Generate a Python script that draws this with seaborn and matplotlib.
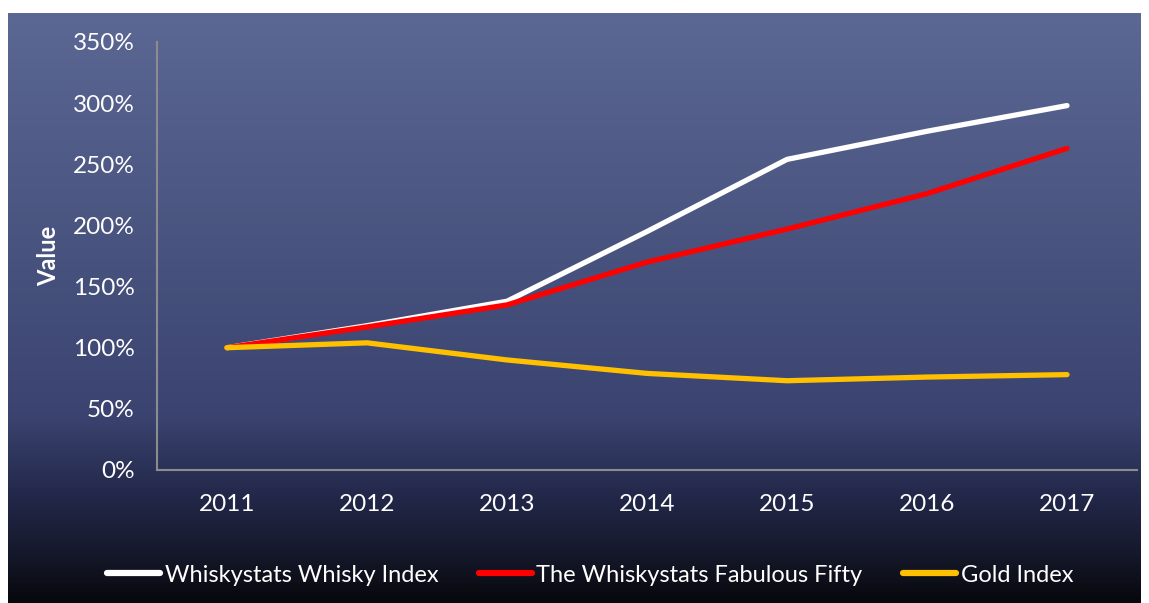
import numpy as np
import pandas as pd
import seaborn as sns
from matplotlib import pyplot as plt
from matplotlib.colors import LinearSegmentedColormap

years = ["2011", "2012", "2013", "2014", "2015", "2016", "2017"]
whisky_index = [100, 118, 138, 195, 254, 277, 298]
fabulous_fifty = [100, 117, 135, 170, 197, 226, 263]
gold_index = [100, 104, 90, 79, 73, 76, 78]

series_names = ["Whiskystats Whisky Index", "The Whiskystats Fabulous Fifty", "Gold Index"]
series_colors = ["#ffffff", "#ff0000", "#ffc000"]

df = pd.concat(
    [
        pd.DataFrame({"Year": years, "Value": vals, "Series": name})
        for name, vals in zip(series_names, [whisky_index, fabulous_fifty, gold_index])
    ],
    ignore_index=True,
)

sns.set_style("white")
plt.rcParams["font.family"] = ["Lato", "DejaVu Sans"]

W, H = 1149, 603
fig = plt.figure(figsize=(W / 100, H / 100), dpi=100)
fig.patch.set_facecolor("white")

# gradient panel behind the chart
bg = fig.add_axes([8 / W, 0, (1141 - 8) / W, (H - 13) / H])
bg.set_axis_off()
cmap = LinearSegmentedColormap.from_list(
    "bg",
    [(0.0, "#5b6893"), (0.68, "#3b4470"), (0.82, "#23284a"), (0.92, "#15182a"), (1.0, "#07080c")],
)
bg.imshow(np.linspace(0, 1, 256).reshape(-1, 1), aspect="auto", cmap=cmap, extent=[0, 1, 0, 1])

ax = fig.add_axes([157 / W, (H - 470) / H, (1137 - 157) / W, (470 - 42) / H])
ax.set_facecolor("none")

sns.lineplot(
    data=df, x="Year", y="Value", hue="Series", palette=series_colors,
    linewidth=3.8, sort=False, ax=ax, legend=False,
)
for ln in ax.get_lines():
    ln.set_solid_capstyle("round")
    ln.set_solid_joinstyle("round")

ax.set_xlim(-0.5, 6.5)
ax.set_ylim(0, 350)
ax.set_yticks(range(0, 351, 50))
ax.set_yticklabels([f"{v}%" for v in range(0, 351, 50)])
ax.set_xticks(range(7))
ax.set_xticklabels(years)
ax.set_xticks(np.arange(-0.5, 7, 1), minor=True)

for s in ["top", "right"]:
    ax.spines[s].set_visible(False)
for s in ["left", "bottom"]:
    ax.spines[s].set_color("#8c8c8c")
    ax.spines[s].set_linewidth(1.5)

ax.tick_params(axis="y", colors="#8c8c8c", length=6, width=1.5, labelcolor="white", labelsize=17.5, pad=10)
ax.tick_params(axis="x", which="major", length=0, labelcolor="white", labelsize=17.5, pad=17)
ax.tick_params(axis="x", which="minor", colors="#8c8c8c", length=7, width=1.5)

ax.set_xlabel("")
ax.set_ylabel("Value", color="white", fontsize=17, fontweight="bold", labelpad=9)

handles = [plt.Line2D([], [], color=c, linewidth=4.5, solid_capstyle="round") for c in series_colors]
leg = fig.legend(
    handles, series_names, loc="center", bbox_to_anchor=(590 / W, 1 - 575 / H), ncol=3,
    frameon=False, fontsize=17, handlelength=2.25, handletextpad=0.2, columnspacing=1.7,
)
for t in leg.get_texts():
    t.set_color("white")

fig.savefig("out.png", dpi=100)
